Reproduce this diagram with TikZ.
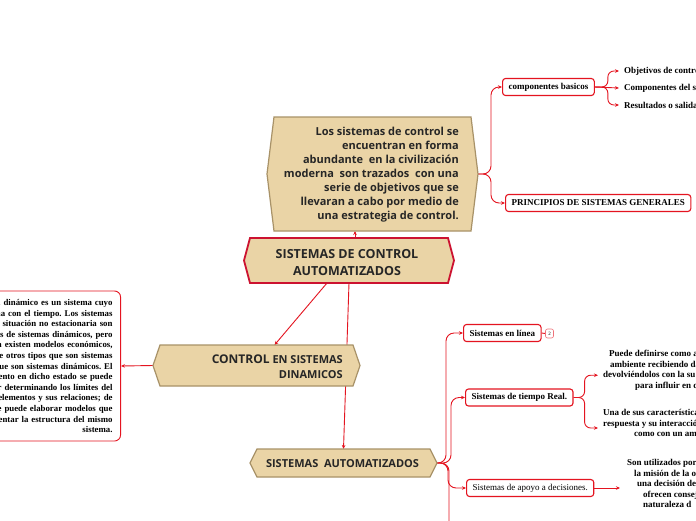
\documentclass[tikz,border=0pt]{standalone}
\usepackage{fontspec}
\setmainfont{Liberation Serif}
\newfontfamily\hexfont{Open Sans}
\usetikzlibrary{arrows.meta,backgrounds}
\frenchspacing
\definecolor{mmred}{RGB}{228,20,32}
\definecolor{mmcrimson}{RGB}{204,18,48}
\definecolor{mmtan}{RGB}{234,212,166}
\definecolor{mmbrown}{RGB}{168,146,104}
\tikzset{
  hexbox/.style={fill=mmtan, draw=mmbrown, line width=1.2pt},
  hexmain/.style={fill=mmtan, draw=mmcrimson, line width=1.8pt},
  hextext/.style={inner sep=0pt, text=black!85, align=center},
  leaf/.style={draw=mmred, fill=white, line width=1.1pt, rounded corners=3pt, anchor=west,
    inner xsep=6pt, inner ysep=0pt, minimum height=17pt, font=\fontsize{9}{10}\selectfont\bfseries},
  item/.style={anchor=west, inner xsep=5pt, inner ysep=1pt, font=\fontsize{9}{10}\selectfont\bfseries},
  note/.style={inner sep=0pt, align=left, anchor=north west, font=\fontsize{9}{10.6}\selectfont\bfseries},
  bignote/.style={draw=mmred, fill=white, line width=0.9pt, rounded corners=6pt, anchor=east,
    text width=170pt, align=right, inner xsep=8pt, minimum height=150pt,
    font=\fontsize{8.8}{10.6}\selectfont\bfseries},
  badge/.style={draw=mmred!60, fill=white, line width=0.6pt, rounded corners=2pt, inner sep=1pt,
    minimum width=8pt, minimum height=9pt, font=\fontsize{5}{6}\selectfont},
  link/.style={draw=mmred, line width=0.9pt, -{Stealth[length=4pt,width=3.5pt]}},
  plainlink/.style={draw=mmred, line width=0.9pt}
}
\newcommand{\hexframe}[7]{%
  \draw[#1] ({#3-#5},#4) -- ({#3-#5+#7},{#4-#6}) -- ({#3+#5-#7},{#4-#6})
    -- ({#3+#5},#4) -- ({#3+#5-#7},{#4+#6}) -- ({#3-#5+#7},{#4+#6}) -- cycle;
  \coordinate (#2-w) at ({#3-#5},#4);
  \coordinate (#2-e) at ({#3+#5},#4);
  \coordinate (#2-n) at (#3,{#4-#6});
  \coordinate (#2-s) at (#3,{#4+#6});}
\begin{document}
\begin{tikzpicture}[x=1pt, y=-1pt]
\begin{scope}[on background layer]
  \fill[white] (0,0) rectangle (696,520);
\end{scope}
\useasboundingbox (0,0) rectangle (696,520);

\hexframe{hexbox}{objbox}{372.5}{174}{105.5}{57}{7}
\hexframe{hexmain}{mainbox}{349}{260.5}{105}{22.5}{6}
\hexframe{hexbox}{dynbox}{256.5}{365.5}{103.5}{20.5}{7}
\hexframe{hexbox}{autobox}{343.5}{463}{93.5}{14}{7}

\node[hextext, align=right, anchor=east, font=\hexfont\fontsize{11}{14}\selectfont\bfseries] (obj) at (459,175)
  {Los sistemas de control se\\ encuentran en forma\\ abundante~ en la civilización\\
   moderna~ son trazados~ con una\\ serie de objetivos que se\\ llevaran a cabo por medio de\\
   una estrategia de control.};
\node[hextext, font=\hexfont\fontsize{12.5}{17}\selectfont\bfseries] (main) at (347,262.5)
  {SISTEMAS DE CONTROL\\ AUTOMATIZADOS};
\node[hextext, align=right, anchor=east, font=\hexfont\fontsize{11}{15}\selectfont\bfseries] (dyn) at (343,366.5)
  {{\fontsize{12}{15}\selectfont CONTROL} EN SISTEMAS\\ DINAMICOS};
\node[hextext, font=\hexfont\fontsize{11}{14}\selectfont\bfseries] (auto) at (342.5,464)
  {SISTEMAS~ AUTOMATIZADOS};

\node[bignote] (dyntxt) at (121,366)
  {a dinámico es un sistema cuyo\\ na con el tiempo. Los sistemas\\ situación no estacionaria son\\
   os de sistemas dinámicos, pero\\ a existen modelos económicos,\\ de otros tipos que son sistemas\\
   ue son sistemas dinámicos. El\\ ento en dicho estado se puede\\ r determinando los límites del\\
   elementos y sus relaciones; de\\ e puede elaborar modelos que\\ entar la estructura del mismo\\
   sistema.};

\node[leaf] (comp) at (502,87) {componentes basicos};
\node[leaf] (princ) at (505,203) {PRINCIPIOS DE SISTEMAS GENERALES};
\node[item] (objetivos) at (619,71) {Objetivos de contro};
\node[item] (componentes) at (619,88) {Componentes del s};
\node[item] (resultados) at (619,105) {Resultados o salida};

\node[leaf] (enlinea) at (463,333) {Sistemas en línea};
\node[badge] (enlineabadge) at (549.5,333.5) {2};
\node[leaf] (treal) at (465,397.5) {Sistemas de tiempo Real.};
\node[leaf, font=\fontsize{9}{10}\selectfont] (apoyo) at (466,488) {Sistemas de apoyo a decisiones.};

\node[note] (t1) at (603,350)
  {\hspace*{6pt}Puede definirse como a\\ \hspace*{7pt}ambiente recibiendo da\\
   devolviéndolos con la su\\ \hspace*{32pt}para influir en d};
\node[note] (t2) at (603,409)
  {Una de sus característica\\ respuesta y su interacció\\ \hspace*{31pt}como con un am};
\node[note] (t3) at (627,459)
  {Son utilizados por\\ \hspace*{7pt}la misión de la o\\ \hspace*{10pt}una decisión de\\
   \hspace*{16pt}ofrecen consej\\ \hspace*{16pt}naturaleza d};

\coordinate (mainup) at ([xshift=6pt]mainbox-n);
\coordinate (autodown) at (449,530);
\begin{scope}[on background layer]
  \draw[link] (mainup) -- (mainup |- objbox-s);
  \draw[link] ([xshift=-22pt]mainbox-s) -- ([xshift=18pt]dynbox-n);
  \draw[link] (mainbox-s) -- (autobox-n);
  \draw[link] (dynbox-w) -- (dyntxt.east);
  \draw[link, rounded corners=8pt] (objbox-e) -- ++(13,0) |- (comp.west);
  \draw[link, rounded corners=8pt] (objbox-e) -- ++(13,0) |- (princ.west);
  \draw[link, rounded corners=6pt] (comp.east) -- ++(13,0) |- (objetivos.west);
  \draw[link] (comp.east) -- (componentes.west);
  \draw[link, rounded corners=6pt] (comp.east) -- ++(13,0) |- (resultados.west);
  \draw[link, rounded corners=8pt] (autobox-e) -- ++(9,0) |- (enlinea.west);
  \draw[link, rounded corners=8pt] (autobox-e) -- ++(14,0) |- (treal.west);
  \draw[link, rounded corners=8pt] (autobox-e) -- ++(11,0) |- (apoyo.west);
  \draw[plainlink, rounded corners=8pt] (autobox-e) -- ++(12,0) -- (autodown);
  \draw[plainlink] (enlinea.east) -- (enlineabadge.west);
  \draw[link, rounded corners=6pt, shorten >=5pt] (treal.east) -- ++(11,0) |- ([yshift=-5pt]t1.west);
  \draw[link, rounded corners=6pt, shorten >=5pt] (treal.east) -- ++(11,0) |- ([yshift=-5pt]t2.west);
  \draw[link, shorten >=7pt] (apoyo.east) -- (apoyo.east -| t3.west);
\end{scope}
\end{tikzpicture}
\end{document}
